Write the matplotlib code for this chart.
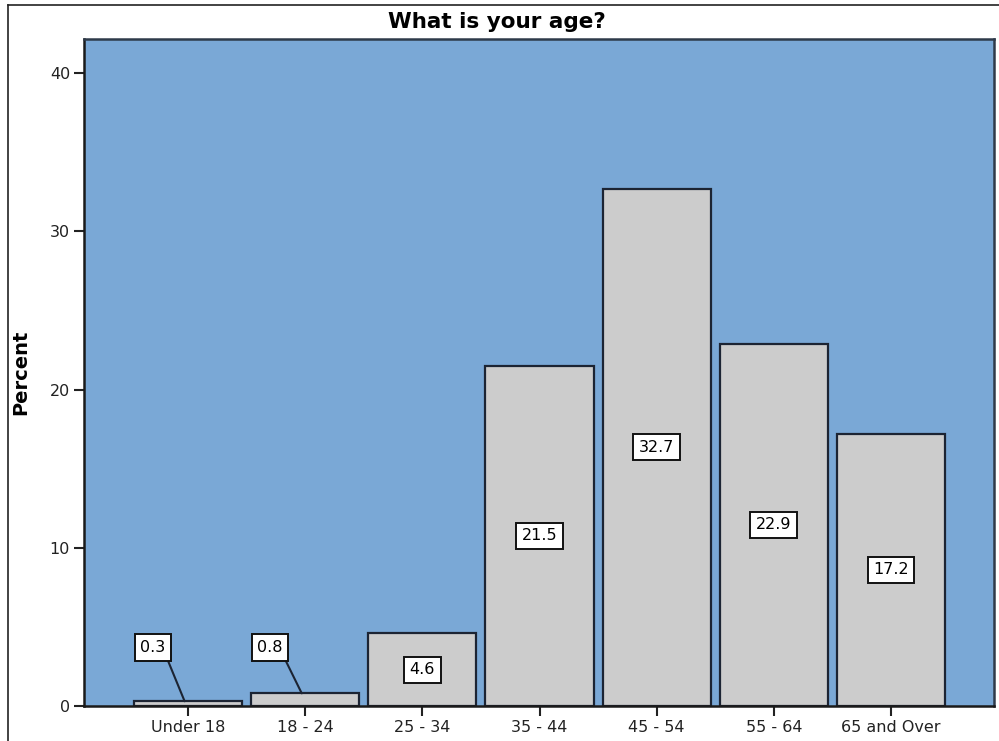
import matplotlib
matplotlib.use("Agg")
import matplotlib.pyplot as plt
from matplotlib.lines import Line2D

categories = ["Under 18", "18 - 24", "25 - 34", "35 - 44", "45 - 54", "55 - 64", "65 and Over"]
percent = [0.3, 0.8, 4.6, 21.5, 32.7, 22.9, 17.2]
y_ticks = [0, 10, 20, 30, 40]

plt.rcParams['font.family'] = ['DejaVu Sans']

fig = plt.figure(figsize=(9.99, 7.41), dpi=100)
ax = fig.add_axes([84/999, 1-706/741, (994-84)/999, (706-39)/741])

bg = "#7aa8d6"
bar_col = "#cccccc"
edge = "#1c2433"
ax.set_facecolor(bg)

x = list(range(len(categories)))
ax.bar(x, percent, width=0.923, color=bar_col, edgecolor=edge, linewidth=1.6, zorder=2)

ax.set_xlim(-0.889, 6.88)
ax.set_ylim(0, 42.15)
ax.set_xticks(x)
ax.set_xticklabels(categories, fontsize=11.5, color="#222222")
ax.set_yticks(y_ticks)
ax.set_yticklabels([str(t) for t in y_ticks], fontsize=11.5, color="#222222")
ax.tick_params(axis='both', direction='out', length=7, width=1.5, color="#222222", pad=3)

for s in ['left', 'bottom']:
    ax.spines[s].set_linewidth(1.8)
    ax.spines[s].set_color("#1a1a1a")
for s in ['top', 'right']:
    ax.spines[s].set_linewidth(1.8)
    ax.spines[s].set_color("#2e3a4a")

ax.set_ylabel("Percent", fontsize=14, fontweight='bold', labelpad=14)
fig.text(0.497, 1-22/741, "What is your age?", fontsize=15.5, fontweight='bold',
         ha='center', va='center')

box = dict(boxstyle='square,pad=0.35', facecolor='white', edgecolor='#111111', linewidth=1.4)
for i, v in enumerate(percent):
    label = f"{v:.1f}"
    if v < 2:
        ax.annotate(label, xy=(i - 0.03, v), xytext=(i - 0.3, 3.7),
                    ha='center', va='center', fontsize=11.5, bbox=box, zorder=4,
                    arrowprops=dict(arrowstyle='-', color='#1c2433', lw=1.5,
                                    relpos=(1.0, 0.0), shrinkA=0, shrinkB=0))
    else:
        ax.text(i, v / 2, label, ha='center', va='center', fontsize=11.5, bbox=box, zorder=4)

# outer frame of the screenshot
fig.add_artist(Line2D([8/999, 8/999], [0, 1-5/741], color='#222222', lw=1.2, transform=fig.transFigure))
fig.add_artist(Line2D([8/999, 1], [1-5/741, 1-5/741], color='#222222', lw=1.2, transform=fig.transFigure))

fig.savefig("out.png", dpi=100)
